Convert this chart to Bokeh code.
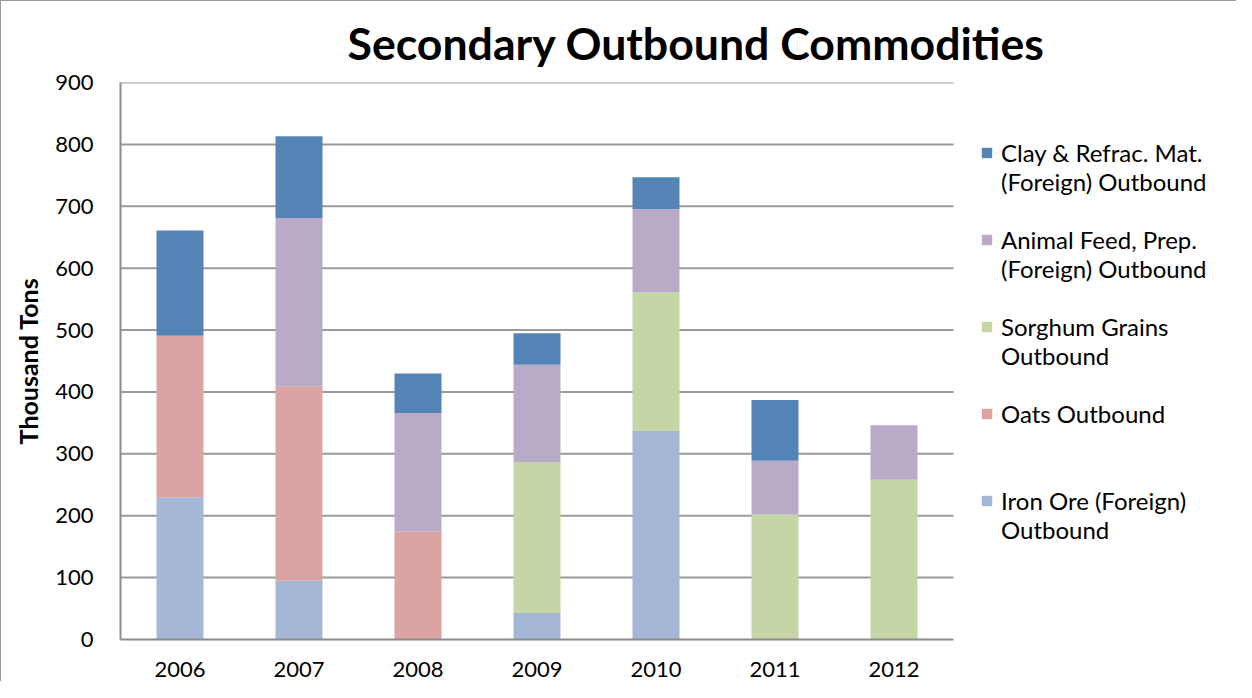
from bokeh.plotting import figure
from bokeh.models import (Range1d, FixedTicker, Legend, LegendItem, Title, ColumnDataSource)
from bokeh.embed import file_html
from bokeh.resources import INLINE

years = ["2006", "2007", "2008", "2009", "2010", "2011", "2012"]
iron_ore = [230, 95, 0, 43, 337, 0, 0]
oats = [261, 314, 175, 0, 0, 0, 0]
sorghum = [0, 0, 0, 244, 224, 202, 258]
animal_feed = [0, 272, 191, 157, 134, 87, 88]
clay = [170, 132, 64, 51, 52, 98, 0]
y_ticks = [0, 100, 200, 300, 400, 500, 600, 700, 800, 900]

series_keys = ["iron", "oats", "sorghum", "animal", "clay"]
# legend text, one list of lines per series (stack order: bottom to top)
series_labels = [["Iron Ore (Foreign)", "Outbound"],
                 ["Oats Outbound", " "],
                 ["Sorghum Grains", "Outbound"],
                 ["Animal Feed, Prep.", "(Foreign) Outbound"],
                 ["Clay & Refrac. Mat.", "(Foreign) Outbound"]]
colors = ["#A4B7D7", "#DBA3A2", "#C6D5A5", "#B9ABC8", "#5484B6"]

n_cat = len(years)
x_pos = [i + 0.5 for i in range(n_cat)]  # category centres on the numeric axis

source = ColumnDataSource(dict(x=x_pos, iron=iron_ore, oats=oats, sorghum=sorghum,
                               animal=animal_feed, clay=clay))

FONT = "Lato"
W, H = 1236, 681
LEFT = 119
PLOT_W = 833  # width of the category area; the rest on the right holds the legend
x_end = n_cat * (W - LEFT) / PLOT_W

p = figure(width=W, height=H, x_range=Range1d(0, x_end), y_range=Range1d(0, 900),
           output_backend="svg", toolbar_location=None,
           min_border_left=LEFT, min_border_right=0, min_border_top=81, min_border_bottom=43)
p.styles = {"border-left": "1px solid #999999", "border-top": "1px solid #999999"}

# horizontal gridlines spanning only the category area
grid_src = ColumnDataSource(dict(x0=[0] * (len(y_ticks) - 1), x1=[n_cat] * (len(y_ticks) - 1),
                                 y=y_ticks[1:]))
p.segment(x0="x0", x1="x1", y0="y", y1="y", source=grid_src, line_color="#9a9a9a",
          line_width=2)

renderers = p.vbar_stack(series_keys, x="x", width=0.395, color=colors, source=source,
                         line_color=None)
# transparent renderer used for the continuation lines / gaps of the legend
blank = p.vbar(x=[], top=[], width=0.1, fill_alpha=0, line_alpha=0)

title = Title(text="Secondary Outbound Commodities", align="left", offset=227,
              text_font=FONT, text_font_size="44.6px", text_font_style="bold",
              text_color="#000000", vertical_align="top", standoff=24)
p.add_layout(title, "above")

p.outline_line_color = None
p.xgrid.grid_line_color = None
p.ygrid.grid_line_color = None

p.yaxis.ticker = FixedTicker(ticks=y_ticks)
p.yaxis.axis_line_color = "#8c8c8c"
p.yaxis.axis_line_width = 2
p.yaxis.major_tick_line_color = None
p.yaxis.major_tick_out = 0
p.yaxis.major_tick_in = 0
p.yaxis.minor_tick_line_color = None
p.yaxis.major_label_text_font = FONT
p.yaxis.major_label_text_font_size = "22px"
p.yaxis.major_label_text_color = "#000000"
p.yaxis.major_label_standoff = 27
p.yaxis.axis_label = "Thousand Tons"
p.yaxis.axis_label_text_font = FONT
p.yaxis.axis_label_text_font_size = "25px"
p.yaxis.axis_label_text_font_style = "bold"
p.yaxis.axis_label_text_color = "#000000"
p.yaxis.axis_label_standoff = 9

p.xaxis.ticker = FixedTicker(ticks=x_pos)
p.xaxis.major_label_overrides = {x: y for x, y in zip(x_pos, years)}
p.xaxis.bounds = (0, n_cat)
p.xaxis.axis_line_color = "#8c8c8c"
p.xaxis.axis_line_width = 2
p.xaxis.major_tick_line_color = None
p.xaxis.minor_tick_line_color = None
p.xaxis.major_label_text_font = FONT
p.xaxis.major_label_text_font_size = "22px"
p.xaxis.major_label_text_color = "#000000"
p.xaxis.major_label_standoff = 16

items = []
for n, i in enumerate(range(4, -1, -1)):
    first, second = series_labels[i]
    items.append(LegendItem(label=first, renderers=[renderers[i]]))
    items.append(LegendItem(label=second, renderers=[blank]))
    if n < 4:
        items.append(LegendItem(label=" ", renderers=[blank]))

legend = Legend(items=items, location=(PLOT_W + 27, 95), label_text_font=FONT,
                label_text_font_size="24px", label_text_color="#000000",
                glyph_width=13, glyph_height=13, label_height=29, spacing=0,
                padding=0, margin=0, label_standoff=8, border_line_color=None,
                background_fill_alpha=0)
p.add_layout(legend, "center")

open("out.html", "w").write(file_html(p, INLINE))
